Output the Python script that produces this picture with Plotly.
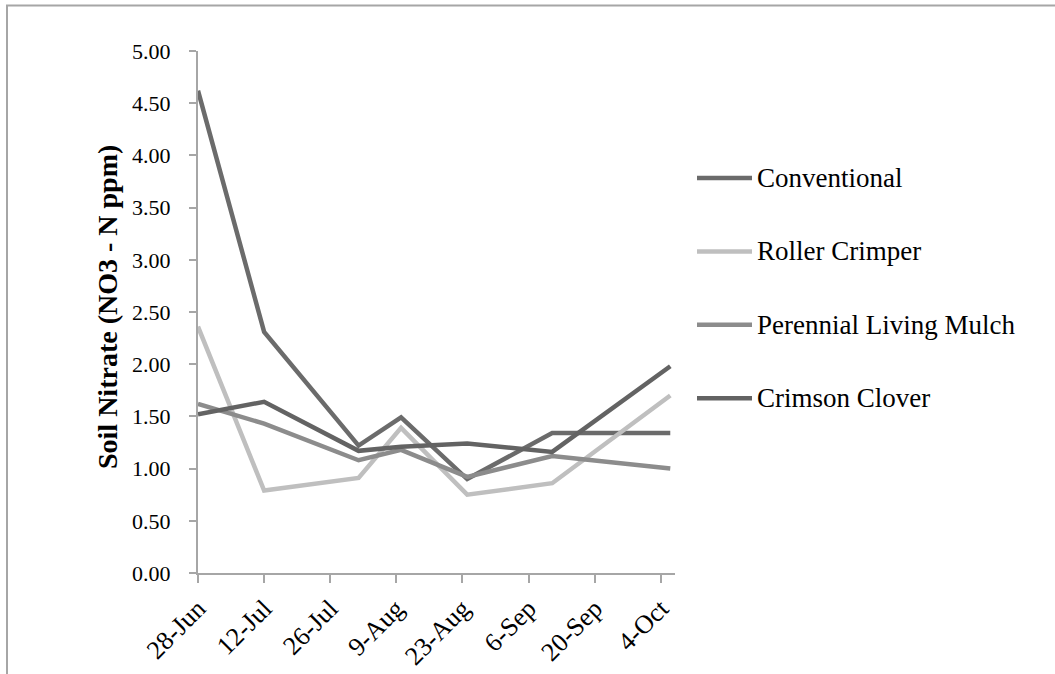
import plotly.graph_objects as go

# Sampling dates and soil nitrate readings (NO3-N, ppm)
dates = ["2013-06-28", "2013-07-12", "2013-08-01", "2013-08-10",
         "2013-08-24", "2013-09-11", "2013-10-06"]
conventional = [4.62, 2.31, 1.22, 1.49, 0.90, 1.34, 1.34]
roller_crimper = [2.36, 0.79, 0.91, 1.39, 0.75, 0.86, 1.70]
perennial_living_mulch = [1.62, 1.43, 1.08, 1.18, 0.92, 1.12, 1.00]
crimson_clover = [1.52, 1.64, 1.17, 1.21, 1.24, 1.16, 1.98]

series_names = ["Conventional", "Roller Crimper", "Perennial Living Mulch", "Crimson Clover"]
series_values = [conventional, roller_crimper, perennial_living_mulch, crimson_clover]
series_colors = ["#6b6b6b", "#bfbfbf", "#8c8c8c", "#636363"]

FONT = "Liberation Serif"
W, H = 1055, 674
L, R, T, B = 198, 380, 51, 101
pw, ph = W - L - R, H - T - B

def px(x):
    return (x - L) / pw

def py(y):
    return (H - B - y) / ph

fig = go.Figure()
for name, vals, col in zip(series_names, series_values, series_colors):
    fig.add_trace(go.Scatter(x=dates, y=vals, name=name, mode="lines",
                             line=dict(color=col, width=4.5), showlegend=False))

# hand-placed legend with long line keys
shapes = []
annotations = []
for i, (name, col) in enumerate(zip(series_names, series_colors)):
    yy = py(178 + i * 73.4)
    shapes.append(dict(type="line", xref="paper", yref="paper",
                       x0=px(697), x1=px(752), y0=yy, y1=yy,
                       line=dict(color=col, width=4.5)))
    annotations.append(dict(xref="paper", yref="paper", x=px(755), y=yy,
                            text=name, showarrow=False, xanchor="left",
                            yanchor="middle",
                            font=dict(family=FONT, size=27, color="#000")))

# outer chart frame
shapes.append(dict(type="rect", xref="paper", yref="paper",
                   x0=px(7), x1=px(1070), y0=py(5.5), y1=py(690),
                   line=dict(color="#a6a6a6", width=2), layer="below"))

annotations.append(dict(xref="paper", yref="paper", x=px(107), y=py(307),
                        text="<b>Soil Nitrate (NO3 - N ppm)</b>", textangle=-90,
                        showarrow=False, xanchor="center", yanchor="middle",
                        font=dict(family=FONT, size=28, color="#000")))

fig.update_layout(
    width=W, height=H,
    margin=dict(l=L, r=R, t=T, b=B, autoexpand=False),
    paper_bgcolor="white", plot_bgcolor="white",
    font=dict(family=FONT, size=20, color="#000"),
    shapes=shapes, annotations=annotations,
    xaxis=dict(
        type="date", range=["2013-06-28", "2013-10-07"],
        tick0="2013-06-28", dtick=14 * 86400000, tickformat="%-d-%b",
        tickangle=-45, ticks="outside", ticklen=8, tickwidth=2,
        tickcolor="#a6a6a6", showline=True, linecolor="#a6a6a6", linewidth=2,
        showgrid=False, zeroline=False, automargin=False,
        tickfont=dict(family=FONT, size=26, color="#000"),
    ),
    yaxis=dict(
        range=[0, 5], dtick=0.5, tickformat=".2f",
        ticks="outside", ticklen=7, tickwidth=2, tickcolor="#a6a6a6",
        showline=True, linecolor="#a6a6a6", linewidth=2,
        showgrid=False, zeroline=False, ticklabelstandoff=14, automargin=False,
        tickfont=dict(family=FONT, size=22, color="#000"),
    ),
)

fig.write_html("out.html")
